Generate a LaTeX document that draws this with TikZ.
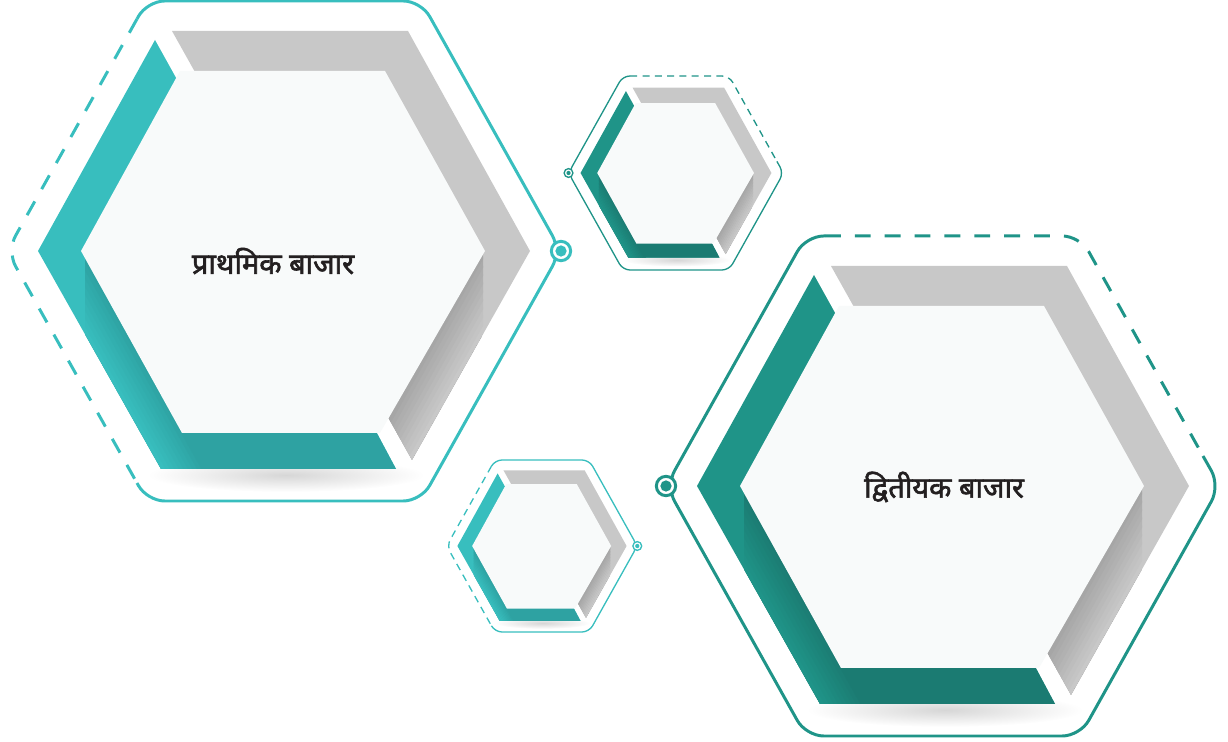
\documentclass[tikz,border=0pt]{standalone}
\usepackage{fontspec}
\newfontfamily\devfont[Script=Devanagari,FakeBold=2]{Noto Sans}

\definecolor{tealA}{HTML}{38BEBE}
\definecolor{tealAbar}{HTML}{2EA2A2}
\definecolor{tealB}{HTML}{1F9488}
\definecolor{tealBbar}{HTML}{1B7B72}
\definecolor{greyband}{HTML}{C8C8C8}
\definecolor{greydeep}{HTML}{A6A6A6}
\definecolor{face}{HTML}{F8FAFA}
\definecolor{ink}{HTML}{231F20}

\tikzset{
  pics/hexcell/.style 2 args={code={
    % corners of the outline and the points where the dashes start
    \coordinate (-ol) at (-277,0);
    \coordinate (-otl) at (-137,-250);
    \coordinate (-otr) at (137,-250);
    \coordinate (-or) at (277,0);
    \coordinate (-obr) at (137,250);
    \coordinate (-obl) at (-137,250);
    \coordinate (-ua) at (-147,-232);
    \coordinate (-la) at (-147,232);
    \coordinate (-ta) at (-118,-250);
    \coordinate (-ra) at (260,-30);
    % soft shadow under the bar
    \shade[inner color=black!16,outer color=white] (2,224) ellipse (138 and 17);
    % grey band
    \begin{scope}
      \clip (-112,-220) -- (124,-220) -- (246,0) -- (128,209) -- (100,159) -- (0,0) -- (-84,-170) -- cycle;
      \fill[greyband] (-300,-300) rectangle (300,300);
      \clip (-300,0) rectangle (199,300);
      \fill[greydeep] (-300,0) rectangle (199,300);
      \foreach \i in {0,...,9}{
        \pgfmathtruncatemacro\mix{\i*11}
        \fill[greydeep!\mix!greyband] (246-\i*4.7,0) -- (240.5-\i*4.7,0) -- (122.5-\i*4.7,209) -- (128-\i*4.7,209) -- cycle;
      }
    \end{scope}
    % coloured band
    \begin{scope}
      \clip (-129,-211) -- (-246,0) -- (-123,218) -- (112,218) -- (88,173) -- (0,0) -- (-104,-166) -- cycle;
      \fill[#1] (-300,-300) rectangle (300,300);
      \clip (-199,0) rectangle (300,300);
      \fill[#2] (-199,0) rectangle (300,300);
      \foreach \i in {0,...,9}{
        \pgfmathtruncatemacro\mix{\i*11}
        \fill[#2!\mix!#1] (-246+\i*4.5,0) -- (-240.7+\i*4.5,0) -- (-117.7+\i*4.5,218) -- (-123+\i*4.5,218) -- cycle;
      }
    \end{scope}
    % front face
    \fill[face] (-203,0) -- (-104,-180) -- (101,-180) -- (201,0) -- (96,182) -- (-102,182) -- cycle;
  }},
  rimbig/.style={draw=#1,line width=1.7pt,rounded corners=10pt},
  rimsmall/.style={draw=#1,line width=0.75pt,rounded corners=4pt},
  dashbig/.style={dash pattern=on 9pt off 8pt},
  dashsmall/.style={dash pattern=on 4pt off 3pt},
  ringbig/.style={circle,draw=#1,line width=1.7pt,fill=white,minimum size=11pt,inner sep=0pt},
  ringsmall/.style={circle,draw=#1,line width=0.75pt,fill=white,minimum size=5pt,inner sep=0pt},
  marketname/.style={font=\devfont\fontsize{16.5}{20}\selectfont,text=ink,inner sep=0pt},
}

\begin{document}
\begin{tikzpicture}[x=0.02cm,y=-0.02cm]
    \useasboundingbox (0,0) rectangle (1228,742);

    \pic (h1) at (284,251) {hexcell={tealA}{tealAbar}};
    \pic[scale=0.388] (h2) at (676,173) {hexcell={tealB}{tealBbar}};
    \pic[scale=0.344] (h3) at (542,546) {hexcell={tealA}{tealAbar}};
    \pic (h4) at (943,486) {hexcell={tealB}{tealBbar}};

    % outlines
    \draw[rimbig=tealA] (h1-ua) -- (h1-otl) -- (h1-otr) -- (h1-or) -- (h1-obr) -- (h1-obl) -- (h1-la);
    \draw[rimbig=tealA,dashbig] (h1-ua) -- (h1-ol) -- (h1-la);
    \draw[rimsmall=tealB] (h2-ta) -- (h2-otl) -- (h2-ol) -- (h2-obl) -- (h2-obr) -- (h2-or) -- (h2-ra);
    \draw[rimsmall=tealB,dashsmall] (h2-ta) -- (h2-otr) -- (h2-ra);
    \draw[rimsmall=tealA] (h3-ua) -- (h3-otl) -- (h3-otr) -- (h3-or) -- (h3-obr) -- (h3-obl) -- (h3-la);
    \draw[rimsmall=tealA,dashsmall] (h3-ua) -- (h3-ol) -- (h3-la);
    \draw[rimbig=tealB] (h4-ta) -- (h4-otl) -- (h4-ol) -- (h4-obl) -- (h4-obr) -- (h4-or) -- (h4-ra);
    \draw[rimbig=tealB,dashbig] (h4-ta) -- (h4-otr) -- (h4-ra);

    % markers on the outlines
    \node[ringbig=tealA] (m1) at (h1-or) {};
    \fill[tealA] (m1) circle (3.2pt);
    \node[ringsmall=tealB] (m2) at (h2-ol) {};
    \fill[tealB] (m2) circle (1.2pt);
    \node[ringsmall=tealA] (m3) at (h3-or) {};
    \fill[tealA] (m3) circle (1.2pt);
    \node[ringbig=tealB] (m4) at (h4-ol) {};
    \fill[tealB] (m4) circle (3.2pt);

    \node[marketname] (primary) at (273,261) {प्राथमिक बाजार};
    \node[marketname] (secondary) at (944,487) {द्वितीयक बाजार};
\end{tikzpicture}
\end{document}
